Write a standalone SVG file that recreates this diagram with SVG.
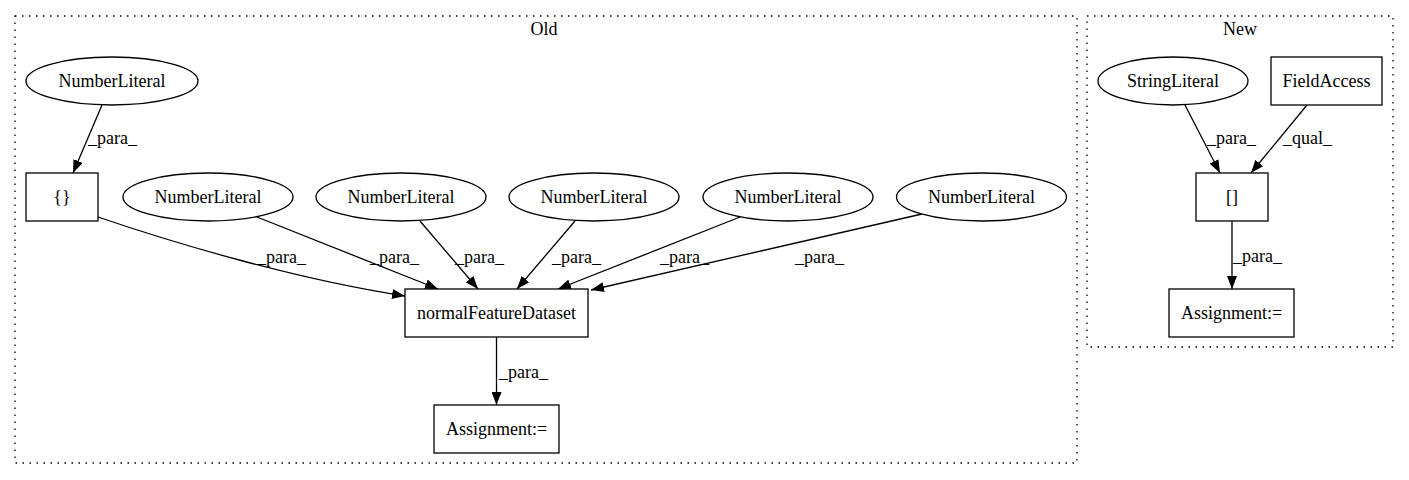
<svg xmlns="http://www.w3.org/2000/svg" width="1409" height="480" viewBox="0 0 1409 480">
<defs>
<marker id="arr" viewBox="0 0 13 10" refX="13" refY="5" markerWidth="13" markerHeight="10" markerUnits="userSpaceOnUse" orient="auto">
<path d="M0,0 L13,5 L0,10 z" fill="#000"/>
</marker>
</defs>
<style>
text{font-family:"Liberation Serif","Times New Roman",serif;font-size:18px;fill:#000}
.c{text-anchor:middle}
.n{fill:#fff;stroke:#000;stroke-width:1.3}
.cl{fill:none;stroke:#000;stroke-width:1.3;stroke-dasharray:1.5 5.5}
.e{fill:none;stroke:#000;stroke-width:1.3;marker-end:url(#arr)}
</style>
<rect width="1409" height="480" fill="#fff"/>
<g id="cluster_old">
<rect class="cl" x="15" y="16" width="1062" height="447"/>
<text class="c" x="544" y="35">Old</text>
</g>
<g id="cluster_new">
<rect class="cl" x="1087" y="16" width="306" height="331"/>
<text class="c" x="1240" y="35">New</text>
</g>
<g id="edges">
<path class="e" d="M102,105 L73,173"/>
<text x="88" y="144">_para_</text>
<path class="e" d="M98,217 C180,245 300,280 405,296"/>
<text x="257" y="263">_para_</text>
<path class="e" d="M257,217 L438,289"/>
<text x="370" y="263">_para_</text>
<path class="e" d="M420,221 L478,289"/>
<text x="455" y="263">_para_</text>
<path class="e" d="M575,221 L517,289"/>
<text x="552" y="263">_para_</text>
<path class="e" d="M740,217 L558,289"/>
<text x="660" y="263">_para_</text>
<path class="e" d="M922,214 L591,290"/>
<text x="795" y="263">_para_</text>
<path class="e" d="M496.5,337 L496.5,405"/>
<text x="499" y="378">_para_</text>
<path class="e" d="M1185,105 L1220,173"/>
<text x="1207" y="144">_para_</text>
<path class="e" d="M1307,105 L1251,173"/>
<text x="1283" y="144">_qual_</text>
<path class="e" d="M1232,221 L1232,289"/>
<text x="1233" y="262">_para_</text>
</g>
<g id="nl1">
<ellipse class="n" cx="112" cy="81" rx="86" ry="24"/>
<text class="c" x="112" y="87">NumberLiteral</text>
</g>
<g id="braces">
<rect class="n" x="26" y="173" width="72" height="48"/>
<text class="c" x="62" y="203">{}</text>
</g>
<g id="nl2">
<ellipse class="n" cx="208" cy="197" rx="85" ry="24"/>
<text class="c" x="208" y="203">NumberLiteral</text>
</g>
<g id="nl3">
<ellipse class="n" cx="401" cy="197" rx="85" ry="24"/>
<text class="c" x="401" y="203">NumberLiteral</text>
</g>
<g id="nl4">
<ellipse class="n" cx="594" cy="197" rx="85" ry="24"/>
<text class="c" x="594" y="203">NumberLiteral</text>
</g>
<g id="nl5">
<ellipse class="n" cx="788" cy="197" rx="85" ry="24"/>
<text class="c" x="788" y="203">NumberLiteral</text>
</g>
<g id="nl6">
<ellipse class="n" cx="981.5" cy="197" rx="85" ry="24"/>
<text class="c" x="981.5" y="203">NumberLiteral</text>
</g>
<g id="nfd">
<rect class="n" x="405" y="289" width="183" height="48"/>
<text class="c" x="496.5" y="319">normalFeatureDataset</text>
</g>
<g id="assign_old">
<rect class="n" x="434" y="405" width="125" height="48"/>
<text class="c" x="496.5" y="435">Assignment:=</text>
</g>
<g id="sl">
<ellipse class="n" cx="1173" cy="81" rx="75" ry="24"/>
<text class="c" x="1173" y="87">StringLiteral</text>
</g>
<g id="fa">
<rect class="n" x="1271" y="57" width="111" height="48"/>
<text class="c" x="1326.5" y="87">FieldAccess</text>
</g>
<g id="brackets">
<rect class="n" x="1196" y="173" width="72" height="48"/>
<text class="c" x="1232" y="203">[]</text>
</g>
<g id="assign_new">
<rect class="n" x="1169" y="289" width="125" height="48"/>
<text class="c" x="1231.5" y="319">Assignment:=</text>
</g>
</svg>
